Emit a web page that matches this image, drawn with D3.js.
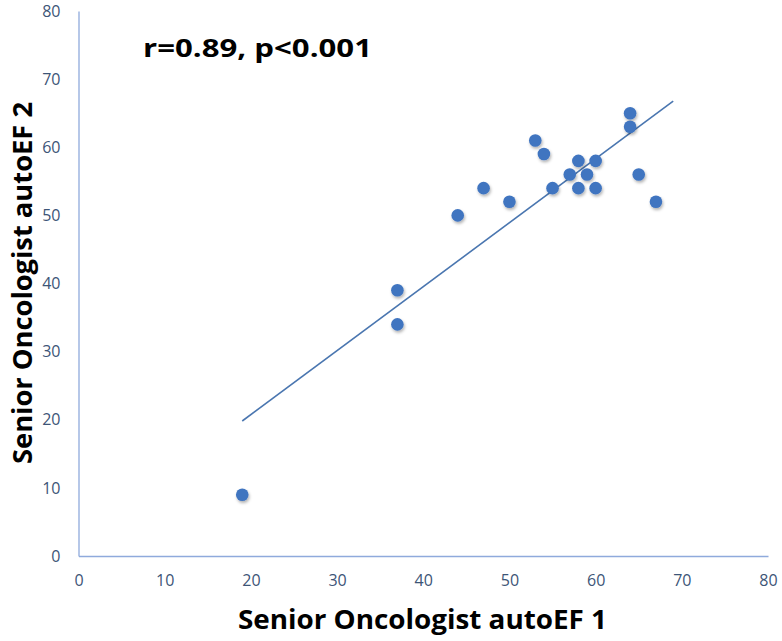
<!DOCTYPE html>
<html>
<head>
<meta charset="utf-8">
<script src="https://cdn.jsdelivr.net/npm/d3@7"></script>
<style>
  body { margin: 0; background: #fff; }
  svg { display: block; font-family: "Open Sans", "Liberation Sans", sans-serif; }
</style>
</head>
<body>
<svg id="chart" width="782" height="641"></svg>
<script>
// readings from the reference picture
const autoEF1 = [19, 37, 37, 44, 47, 50, 53, 54, 55, 57, 58, 58, 59, 60, 60, 64, 64, 65, 67];
const autoEF2 = [9, 39, 34, 50, 54, 52, 61, 59, 54, 56, 58, 54, 56, 58, 54, 65, 63, 56, 52];
const xTicks = [0, 10, 20, 30, 40, 50, 60, 70, 80];
const yTicks = [0, 10, 20, 30, 40, 50, 60, 70, 80];
const trendRange = [19, 69];
const statsLabel = 'r=0.89, p<0.001';

const svg = d3.select('#chart'),
  margin = {top: 11, right: 14, bottom: 85, left: 78.5},
  width = +svg.attr('width') - margin.left - margin.right,
  height = +svg.attr('height') - margin.top - margin.bottom;

const x = d3.scaleLinear().domain([0, 80]).range([0, width]);
const y = d3.scaleLinear().domain([0, 80]).range([height, 0]);

const defs = svg.append('defs');
const shadow = defs.append('filter').attr('id', 'shadow')
  .attr('x', '-50%').attr('y', '-50%').attr('width', '200%').attr('height', '200%');
shadow.append('feDropShadow')
  .attr('dx', 1).attr('dy', 2).attr('stdDeviation', 1.4)
  .attr('flood-color', '#000').attr('flood-opacity', 0.3);

const g = svg.append('g')
  .attr('transform', 'translate(' + margin.left + ',' + margin.top + ')');

const axisColor = '#8faadc';
const tickColor = '#3d5577';

// x axis
const xAxis = g.append('g')
  .attr('transform', 'translate(0,' + height + ')')
  .call(d3.axisBottom(x).tickValues(xTicks).tickSize(0).tickPadding(19));
xAxis.select('.domain').attr('stroke', axisColor).attr('stroke-width', 1.3);
xAxis.selectAll('text').attr('fill', tickColor).style('font-size', '16px')
  .style('font-family', '"Open Sans", sans-serif');

// y axis
const yAxis = g.append('g')
  .call(d3.axisLeft(y).tickValues(yTicks).tickSize(0).tickPadding(18));
yAxis.select('.domain').attr('stroke', axisColor).attr('stroke-width', 1.3);
yAxis.selectAll('text').attr('fill', tickColor).style('font-size', '16px')
  .style('font-family', '"Open Sans", sans-serif');

// least squares trend line
const points = autoEF1.map((v, i) => ({x: v, y: autoEF2[i]}));
const mx = d3.mean(autoEF1), my = d3.mean(autoEF2);
const slope = d3.sum(points, d => (d.x - mx) * (d.y - my)) / d3.sum(points, d => (d.x - mx) * (d.x - mx));
const intercept = my - slope * mx;
const trend = trendRange.map(v => ({x: v, y: intercept + slope * v}));

g.append('path')
  .datum(trend)
  .attr('fill', 'none')
  .attr('stroke', '#4a76b0')
  .attr('stroke-width', 1.6)
  .attr('d', d3.line().x(d => x(d.x)).y(d => y(d.y)));

g.selectAll('circle.pt')
  .data(points)
  .enter().append('circle')
  .attr('class', 'pt')
  .attr('cx', d => x(d.x))
  .attr('cy', d => y(d.y))
  .attr('r', 6.3)
  .attr('fill', '#3f74c0')
  .attr('filter', 'url(#shadow)');

// labels
svg.append('text')
  .attr('x', 143).attr('y', 56.5)
  .attr('font-weight', 'bold')
  .style('font-size', '25px')
  .attr('textLength', 229)
  .attr('lengthAdjust', 'spacingAndGlyphs')
  .attr('fill', '#000')
  .text(statsLabel);

svg.append('text')
  .attr('x', 238).attr('y', 629)
  .attr('font-weight', 'bold')
  .style('font-size', '26px')
  .attr('textLength', 369)
  .attr('lengthAdjust', 'spacingAndGlyphs')
  .attr('fill', '#000')
  .text('Senior Oncologist autoEF 1');

svg.append('text')
  .attr('transform', 'translate(32,464)rotate(-90)')
  .attr('font-weight', 'bold')
  .style('font-size', '26px')
  .attr('textLength', 362)
  .attr('lengthAdjust', 'spacingAndGlyphs')
  .attr('fill', '#000')
  .text('Senior Oncologist autoEF 2');
</script>
</body>
</html>
